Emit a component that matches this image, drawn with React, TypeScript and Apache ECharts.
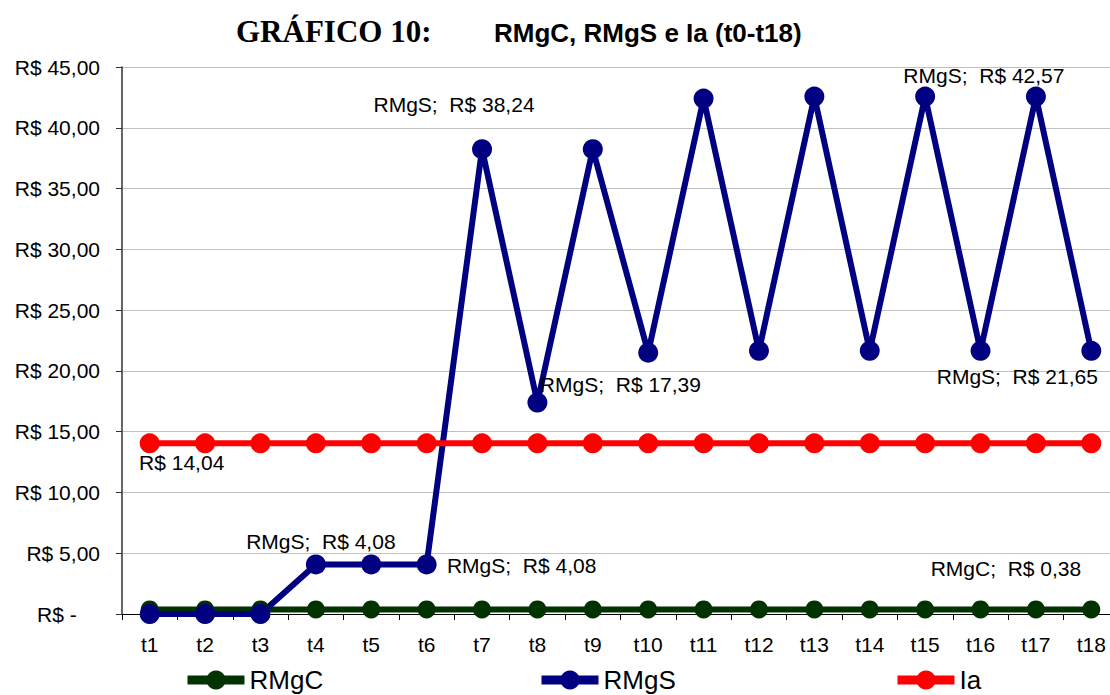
import React, { useEffect, useRef } from "react";
import * as echarts from "echarts";

const categories = ["t1","t2","t3","t4","t5","t6","t7","t8","t9","t10","t11","t12","t13","t14","t15","t16","t17","t18"];
const rmgc = [0.38,0.38,0.38,0.38,0.38,0.38,0.38,0.38,0.38,0.38,0.38,0.38,0.38,0.38,0.38,0.38,0.38,0.38];
const rmgs = [0,0,0,4.08,4.08,4.08,38.24,17.39,38.24,21.5,42.4,21.65,42.57,21.65,42.57,21.65,42.57,21.65];
const ia = [14.04,14.04,14.04,14.04,14.04,14.04,14.04,14.04,14.04,14.04,14.04,14.04,14.04,14.04,14.04,14.04,14.04,14.04];
const seriesNames = ["RMgC", "RMgS", "Ia"];

const fmt = (v: number) => v.toFixed(2).replace(".", ",");

// label placement (offsets from point centre), keyed by data index
const rmgsLabels: Record<number, [number, number]> = {
  3: [5, -23], 5: [95, 1], 6: [-28, -45], 7: [83, -18], 16: [-52, -21], 17: [-74, 26],
};
const iaLabels: Record<number, [number, number]> = { 0: [32, 19] };
const rmgcLabels: Record<number, [number, number]> = { 16: [-30, -41] };

const labelFont = { color: "#000", fontSize: 21, fontFamily: "Liberation Sans, Arial, sans-serif" };

function build(values: number[], offsets: Record<number, [number, number]>, withName: string | null) {
  return values.map((v, i) => {
    const off = offsets[i];
    if (!off) return v;
    return {
      value: v,
      label: {
        show: true,
        position: "inside",
        offset: off,
        ...labelFont,
        formatter: () => (withName ? `${withName};  R$ ${fmt(v)}` : `R$ ${fmt(v)}`),
      },
    };
  });
}

export default function App() {
  const ref = useRef<HTMLDivElement>(null);
  useEffect(() => {
    if (!ref.current) return;
    const chart = echarts.init(ref.current, undefined, { renderer: "svg" });
    const colors = ["#003300", "#000080", "#ff0000"];
    const legendPos = [183, 537, 893];
    chart.setOption({
      animation: false,
      backgroundColor: "#fff",
      grid: { left: 122, width: 997, top: 67, bottom: 81, outerBoundsMode: "none", containLabel: false },
      graphic: [
        { type: "text", left: 236, top: 16, style: { text: "GRÁFICO 10:", font: "bold 31px 'Liberation Serif', 'Times New Roman', serif", fill: "#000" } },
        { type: "text", left: 494, top: 20, style: { text: "RMgC, RMgS e Ia (t0-t18)", font: "bold 26px 'Liberation Sans', Arial, sans-serif", fill: "#000" } },
      ],
      legend: seriesNames.map((n, i) => ({
        data: [n],
        left: legendPos[i],
        top: 667,
        itemWidth: 57,
        itemHeight: 24,
        itemGap: 6,
        padding: 0,
        lineStyle: { width: 9 },
        textStyle: { fontSize: 26, color: "#000", fontFamily: "Liberation Sans, Arial, sans-serif" },
      })),
      xAxis: {
        type: "category",
        data: categories,
        boundaryGap: true,
        axisLine: { lineStyle: { color: "#000", width: 1 } },
        axisTick: { show: true, length: 6, lineStyle: { color: "#000" } },
        axisLabel: { margin: 20, ...labelFont },
        splitLine: { show: false },
      },
      yAxis: {
        type: "value",
        min: 0,
        max: 45,
        interval: 5,
        axisLine: { show: true, lineStyle: { color: "#333", width: 1.5 } },
        axisTick: { show: true, length: 6, lineStyle: { color: "#333" } },
        axisLabel: {
          margin: 22,
          ...labelFont,
          formatter: (v: number) => (v === 0 ? "R$ -    " : `R$ ${fmt(v)}`),
        },
        splitLine: { show: true, lineStyle: { color: "#c0c0c0", width: 1 } },
      },
      series: [
        {
          name: seriesNames[0], type: "line", data: build(rmgc, rmgcLabels, "RMgC"),
          symbol: "circle", symbolSize: 18, color: colors[0],
          lineStyle: { width: 6, color: colors[0] }, itemStyle: { color: colors[0] },
        },
        {
          name: seriesNames[1], type: "line", data: build(rmgs, rmgsLabels, "RMgS"),
          symbol: "circle", symbolSize: 20, color: colors[1],
          lineStyle: { width: 6, color: colors[1] }, itemStyle: { color: colors[1] },
        },
        {
          name: seriesNames[2], type: "line", data: build(ia, iaLabels, null),
          symbol: "circle", symbolSize: 20, color: colors[2],
          lineStyle: { width: 6, color: colors[2] }, itemStyle: { color: colors[2] },
        },
      ],
    });
    return () => chart.dispose();
  }, []);
  return <div ref={ref} style={{ position: "fixed", left: 0, top: 0, width: 1110, height: 695 }} />;
}
